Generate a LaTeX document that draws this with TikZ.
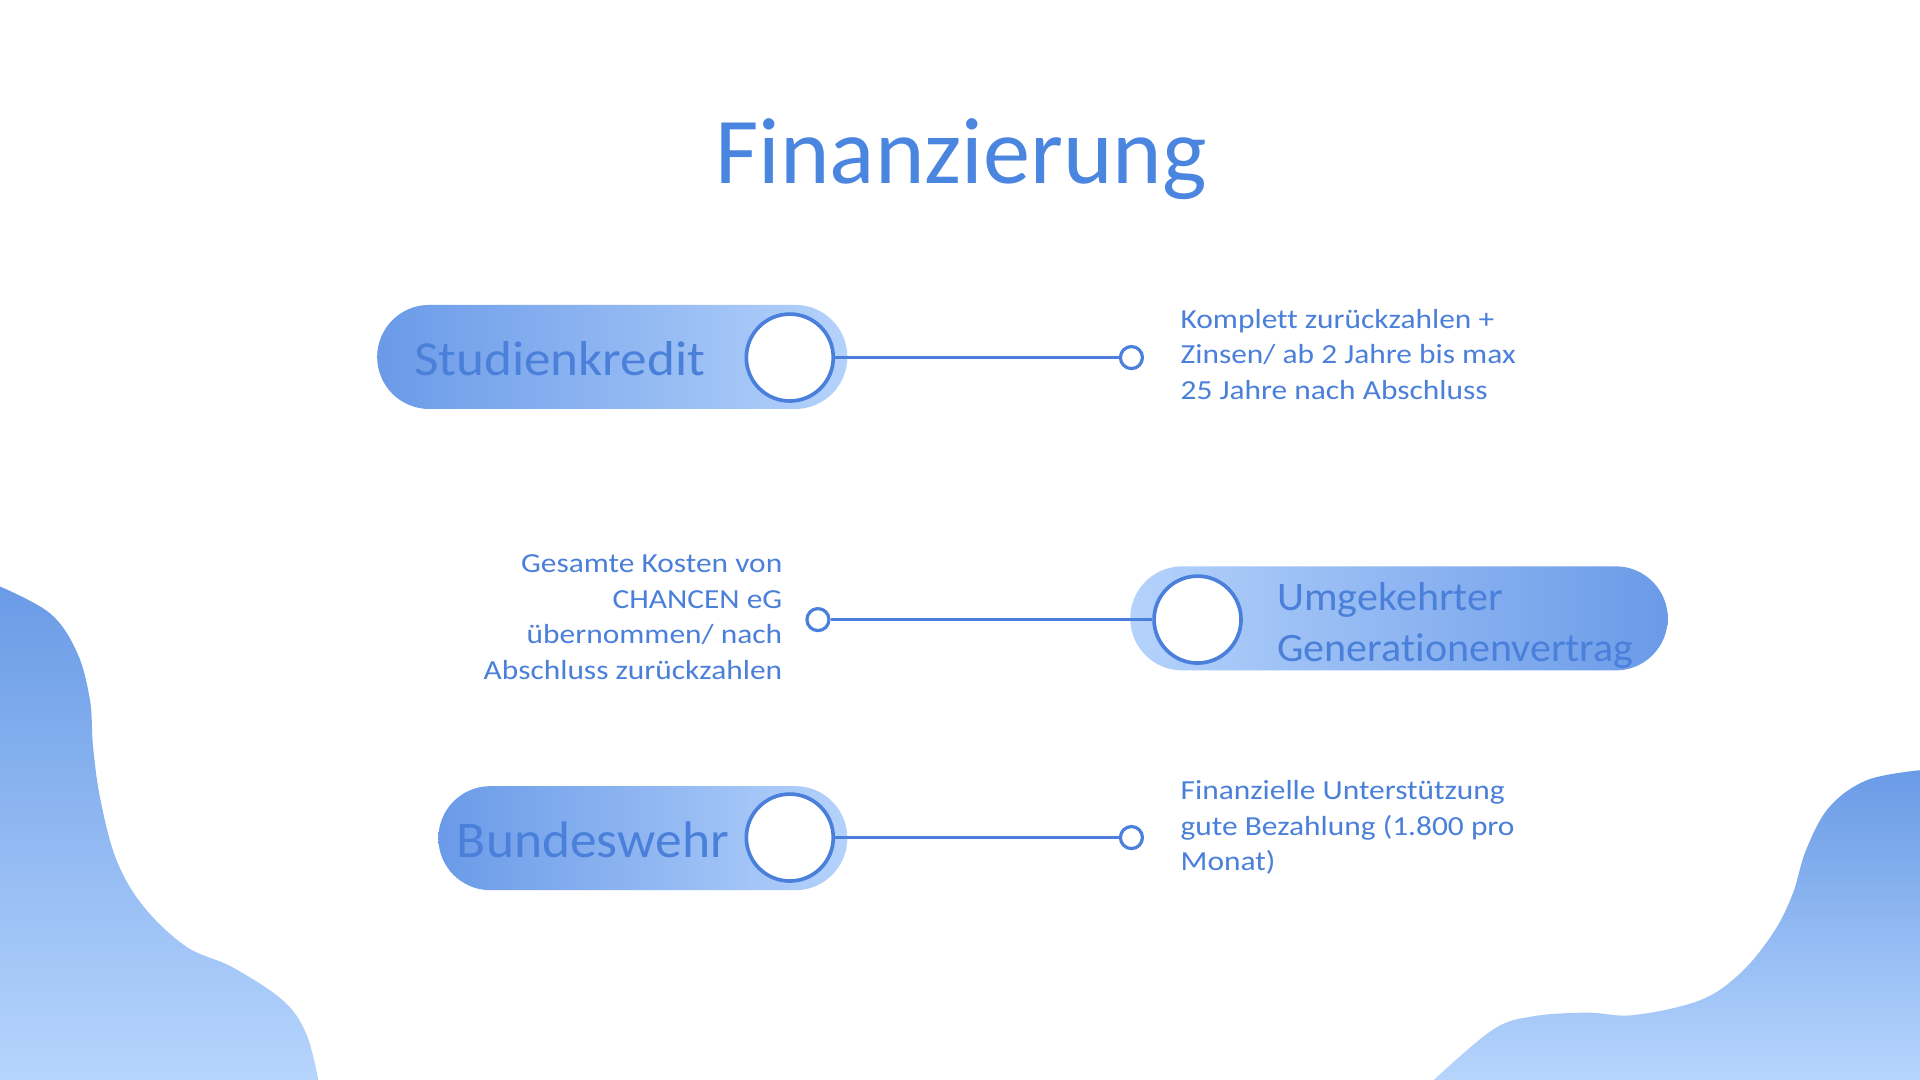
\documentclass[tikz,border=0pt]{standalone}
\usepackage{fontspec}
\setmainfont{Carlito}[Ligatures=NoCommon]
\newfontfamily\descfont{Carlito}[Ligatures=NoCommon, FakeStretch=1.14]
\newfontfamily\sfont{Carlito}[Ligatures=NoCommon, FakeStretch=1.085]
\newfontfamily\gfont{Carlito}[Ligatures=NoCommon, FakeStretch=1.04]
\definecolor{txtblue}{HTML}{4A7FDA}
\definecolor{ttlblue}{HTML}{4A86E0}
\definecolor{lnblue}{HTML}{4A80DC}
\definecolor{pdark}{HTML}{6A9AE8}
\definecolor{plight}{HTML}{B4D2FB}
\definecolor{btop}{HTML}{6A9BE6}
\definecolor{bbot}{HTML}{B6D5FD}
\tikzset{
  pill/.style={rounded corners=42.5pt, minimum height=85pt, inner sep=0pt},
  bigcirc/.style={circle, draw=lnblue, line width=3pt, fill=white, minimum size=71pt, inner sep=0pt},
  dotc/.style={circle, draw=lnblue, line width=2.6pt, fill=white, minimum size=18pt, inner sep=0pt},
  conn/.style={draw=lnblue, line width=3pt},
  pilltext/.style={text=txtblue, inner sep=0pt, anchor=west},
  desc/.style={text=txtblue, inner sep=0pt, font=\descfont\fontsize{22.5}{29}\selectfont}
}
\begin{document}
\begin{tikzpicture}[x=1pt, y=-1pt]
\useasboundingbox (0,0) rectangle (1568,882);
\fill[white] (0,0) rectangle (1568,882);
% blobs
\shade[top color=btop, bottom color=bbot] (0,882) -- (0,479) -- plot[smooth, tension=0.6] coordinates {(0,479) (41,501) (63,533) (73.5,572) (76,610) (82,653) (95,702) (117,740) (152,773) (190,790) (231,817) (250,844) (260,882)} -- cycle;
\shade[top color=btop, bottom color=bbot] (1568,882) -- (1568,629) -- plot[smooth, tension=0.6] coordinates {(1568,629) (1525,637) (1494,659) (1475,694) (1464,730) (1448,762) (1421,795) (1388,817) (1334,829) (1296,827) (1252,830) (1219,841) (1171,882)} -- cycle;
% title
\node[text=ttlblue, inner sep=0pt, anchor=base, font=\fontsize{77}{90}\selectfont] (title) at (785,150) {Finanzierung};
% row 1
\node[pill, left color=pdark, right color=plight, minimum width=384pt] (p1) at (500,291.5) {};
\node[pilltext, font=\sfont\fontsize{40}{48}\selectfont] (t1) at (338,293) {Studienkredit};
\node[bigcirc] (c1) at (645,292) {};
\node[dotc] (d1) at (924,292) {};
\draw[conn] (c1) -- (d1);
\node[desc, anchor=west, align=left] (x1) at (964,289.5) {Komplett zurückzahlen +\\Zinsen/ ab 2 Jahre bis max\\25 Jahre nach Abschluss};
% row 2
\node[pill, left color=plight, right color=pdark, minimum width=439pt] (p2) at (1142.5,505) {};
\node[pilltext, align=left, font=\gfont\fontsize{33}{42}\selectfont] (t2) at (1043,511) {Umgekehrter\\Generationenvertrag};
\node[bigcirc] (c2) at (978,506) {};
\node[dotc] (d2) at (668,506) {};
\draw[conn] (c2) -- (d2);
\node[desc, anchor=east, align=right] (x2) at (639,504) {Gesamte Kosten von\\CHANCEN eG\\übernommen/ nach\\Abschluss zurückzahlen};
% row 3
\node[pill, left color=pdark, right color=plight, minimum width=334pt] (p3) at (525,684.5) {};
\node[pilltext, font=\gfont\fontsize{42}{50}\selectfont] (t3) at (373,686) {Bundeswehr};
\node[bigcirc] (c3) at (645,684) {};
\node[dotc] (d3) at (924,684) {};
\draw[conn] (c3) -- (d3);
\node[desc, anchor=west, align=left] (x3) at (964,676) {Finanzielle Unterstützung\\gute Bezahlung (1.800 pro\\Monat)};
\end{tikzpicture}
\end{document}
